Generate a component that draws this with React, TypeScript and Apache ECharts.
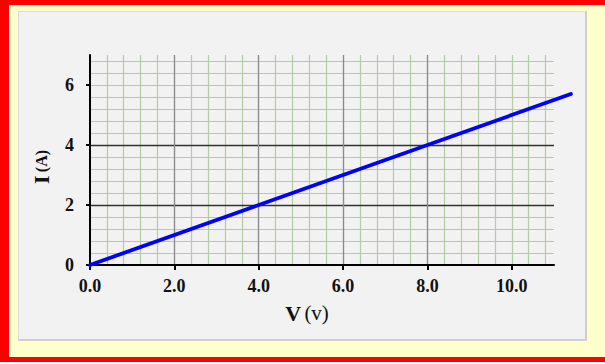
import React, { useEffect, useRef } from "react";
import * as echarts from "echarts";

const voltage = [0, 4, 8, 11.4];
const current = [0, 2, 4, 5.7];
const xTickValues = [0, 2, 4, 6, 8, 10];
const yTickValues = [0, 2, 4, 6];

export default function App() {
  const ref = useRef<HTMLDivElement>(null);
  useEffect(() => {
    if (!ref.current) return;
    const chart = echarts.init(ref.current, null, { renderer: "svg" });
    const serif = "Liberation Serif, Times New Roman, serif";
    const gLeft = 90;
    const gTop = 55;
    const gW = 464;
    const gH = 210;
    const minorLine = { show: true, showMinLine: false, showMaxLine: false, lineStyle: { color: "#b3cca3", width: 1.2 } };
    const hidden = {
      axisLine: { show: false },
      axisTick: { show: false },
      axisLabel: { show: false },
    };
    chart.setOption({
      animation: false,
      grid: [
        { left: gLeft, top: gTop, width: gW, height: gH, containLabel: false, outerBoundsMode: "none" },
        { left: gLeft, top: gTop, width: (gW * 12) / 11, height: gH, containLabel: false, outerBoundsMode: "none" },
      ],
      xAxis: [
        {
          type: "value",
          gridIndex: 0,
          position: "bottom",
          min: 0,
          max: 11,
          interval: 0.4,
          ...hidden,
          splitLine: minorLine,
          z: 1,
        },
        {
          type: "value",
          gridIndex: 0,
          position: "bottom",
          min: 0,
          max: 11,
          interval: 2,
          name: "{b|V} {n|(v)}",
          nameLocation: "middle",
          nameGap: 37,
          nameTextStyle: {
            padding: [0, 30, 0, 0],
            rich: {
              b: { fontFamily: serif, fontWeight: "bold", fontSize: 22, color: "#111" },
              n: { fontFamily: serif, fontWeight: "normal", fontSize: 21, color: "#111" },
            },
          },
          axisLine: { show: true, onZero: false, lineStyle: { color: "#000", width: 2 } },
          axisTick: { show: true, length: 5, inside: false, customValues: xTickValues, lineStyle: { color: "#000", width: 2 } },
          axisLabel: {
            customValues: xTickValues,
            margin: 12,
            fontFamily: serif,
            fontWeight: "bold",
            fontSize: 18,
            color: "#111",
            formatter: (v: number) => v.toFixed(1),
          },
          splitLine: { show: true, showMinLine: false, showMaxLine: false, lineStyle: { color: "#8c8c8c", width: 1.3 } },
          z: 2,
        },
        {
          type: "value",
          gridIndex: 1,
          position: "bottom",
          min: 0,
          max: 12,
          show: false,
        },
      ],
      yAxis: [
        {
          type: "value",
          gridIndex: 0,
          position: "left",
          min: 0,
          max: 7,
          interval: 0.4,
          ...hidden,
          splitLine: minorLine,
          z: 1,
        },
        {
          type: "value",
          gridIndex: 0,
          position: "left",
          min: 0,
          max: 7,
          interval: 2,
          name: "{b|I} {s|(A)}",
          nameLocation: "middle",
          nameGap: 38,
          nameRotate: 90,
          nameTextStyle: {
            padding: [0, 14, 0, 0],
            rich: {
              b: { fontFamily: serif, fontWeight: "bold", fontSize: 22, color: "#111" },
              s: { fontFamily: serif, fontWeight: "bold", fontSize: 16, color: "#111" },
            },
          },
          axisLine: { show: true, onZero: false, lineStyle: { color: "#000", width: 2 } },
          axisTick: { show: true, length: 4, customValues: yTickValues, lineStyle: { color: "#000", width: 2 } },
          axisLabel: {
            customValues: yTickValues,
            margin: 16,
            fontFamily: serif,
            fontWeight: "bold",
            fontSize: 18,
            color: "#111",
          },
          splitLine: { show: true, showMinLine: false, showMaxLine: false, lineStyle: { color: "#333333", width: 1.4 } },
          z: 2,
        },
        {
          type: "value",
          gridIndex: 1,
          position: "left",
          min: 0,
          max: 7,
          show: false,
        },
      ],
      series: [
        {
          type: "line",
          xAxisIndex: 2,
          yAxisIndex: 2,
          data: voltage.map((v, i) => [v, current[i]]),
          showSymbol: false,
          symbol: "none",
          lineStyle: { color: "#0000ff", width: 3.8, cap: "round" },
          z: 10,
        },
      ],
    });
    return () => chart.dispose();
  }, []);

  return (
    <div style={{ position: "fixed", left: 0, top: 0, width: 605, height: 364, background: "#fff", overflow: "hidden" }}>
      <div
        style={{
          position: "absolute",
          left: 0,
          top: 0,
          width: 700,
          height: 362,
          boxSizing: "border-box",
          borderLeft: "9px solid #ff0000",
          borderTop: "5px solid #ff0000",
          borderBottom: "5px solid #ff0000",
          background: "#ffffcc",
        }}
      />
      <div
        style={{
          position: "absolute",
          left: 18,
          top: 11,
          width: 569,
          height: 330,
          boxSizing: "border-box",
          background: "#f2f2f2",
          borderTop: "1px solid #dcdcdc",
          borderLeft: "1px solid #dcdcdc",
          borderRight: "2px solid #cfcfcf",
          borderBottom: "2px solid #cfcfcf",
        }}
      />
      <div ref={ref} style={{ position: "absolute", left: 0, top: 0, width: 605, height: 364 }} />
    </div>
  );
}
